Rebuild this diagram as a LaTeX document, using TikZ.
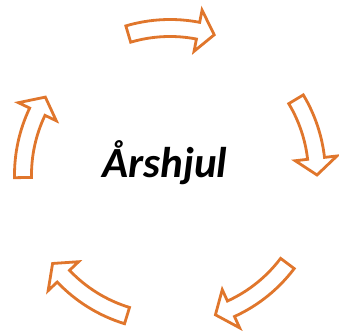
\documentclass[tikz,border=0pt]{standalone}
\usepackage{fontspec}
\setmainfont{Carlito}
\definecolor{arrowor}{HTML}{E0762C}
\tikzset{
  cycarrow/.style={draw=arrowor, fill=white, line width=2.8pt, line join=miter},
  title/.style={font=\fontsize{43}{46}\selectfont\bfseries\itshape, inner sep=0pt}
}
\newcommand{\cyclearrow}[2]{%
  \pgfmathsetmacro{\aA}{#1}%
  \pgfmathsetmacro{\aB}{#2+6.5}%
  \pgfmathsetmacro{\aT}{#2}%
  \draw[cycarrow] (\aA:155.5) arc[start angle=\aA, end angle=\aB, radius=155.5]
    -- (\aB:168) -- (\aT:147) -- (\aB:126) -- (\aB:138.5)
    arc[start angle=\aB, end angle=\aA, radius=138.5] -- cycle;}
\begin{document}
\begin{tikzpicture}[x=1pt,y=1pt]
\useasboundingbox (0,0) rectangle (339,331);
\coordinate (c) at (170,156);
\begin{scope}[shift={(c)}]
\foreach \a/\b in {106.5/72.5, 31/0, -37/-72, -107/-143, 181/148}{
  \cyclearrow{\a}{\b}
}
\end{scope}
\node[title, anchor=base] (t) at (165,153) {Årshjul};
\end{tikzpicture}
\end{document}
